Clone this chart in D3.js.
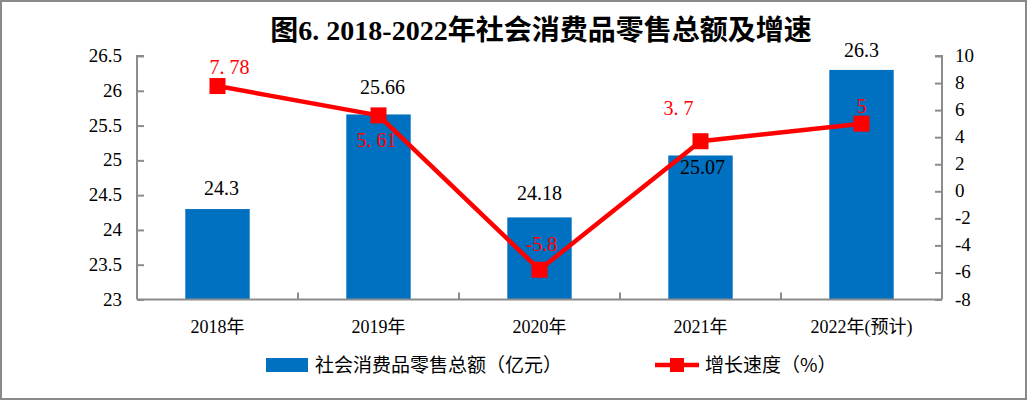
<!DOCTYPE html>
<html><head><meta charset="utf-8">
<script src="https://cdn.jsdelivr.net/npm/d3@7"></script>
<style>
html,body{margin:0;padding:0;background:#fff;}
svg{display:block;}
</style></head>
<body>
<svg id="c" width="1027" height="400"></svg>
<script>
const categories = ["2018年","2019年","2020年","2021年","2022年(预计)"];
const retailSales = [24.3, 25.66, 24.18, 25.07, 26.3];
const growthRate = [7.78, 5.61, -5.8, 3.7, 5];
const growthLabels = ["7. 78","5. 61","-5.8","3. 7","5"];
const leftTicks = [23,23.5,24,24.5,25,25.5,26,26.5];
const rightTicks = [-8,-6,-4,-2,0,2,4,6,8,10];
const titleText = "图6. 2018-2022年社会消费品零售总额及增速";
const legendBar = "社会消费品零售总额（亿元）";
const legendLine = "增长速度（%）";

const svg = d3.select("#c");
const W = 1027, H = 400;
const m = {l:137, r:942, t:56, b:299.5};
const serif = "'Liberation Serif','Times New Roman',serif";
const cjk = "'Noto Sans CJK SC','Noto Sans',sans-serif";
const mix = "'Liberation Serif','Noto Sans CJK SC',serif";
const axisCol = "#8c8c8c";
const blue = "#0070C0", red = "#FF0000";

svg.append("rect").attr("x",1).attr("y",1).attr("width",W-2).attr("height",H-2)
  .attr("fill","#fff").attr("stroke","#8a8a8a").attr("stroke-width",2);

const x = d3.scaleBand().domain(categories).range([m.l,m.r]).paddingInner(0.6).paddingOuter(0.3);
const xc = d3.scaleBand().domain(categories).range([m.l,m.r]);
const yL = d3.scaleLinear().domain([23,26.5]).range([m.b,m.t]);
const yR = d3.scaleLinear().domain([-8,10]).range([m.b,m.t]);

// title
svg.append("text").attr("x",541).attr("y",40).attr("text-anchor","middle")
  .attr("font-family",mix).attr("font-weight","bold").attr("font-size",28).attr("fill","#000")
  .text(titleText);

// bars
svg.append("g").selectAll("rect").data(retailSales).join("rect")
  .attr("x",(d,i)=>x(categories[i])).attr("width",x.bandwidth())
  .attr("y",d=>yL(d)).attr("height",d=>m.b-yL(d)).attr("fill",blue);

// axes
const gl = svg.append("g").attr("transform",`translate(${m.l},0)`)
  .call(d3.axisRight(yL).tickValues(leftTicks).tickSize(7).tickFormat(""));
const gr = svg.append("g").attr("transform",`translate(${m.r},0)`)
  .call(d3.axisLeft(yR).tickValues(rightTicks).tickSize(7).tickFormat(""));
const gb = svg.append("g").attr("transform",`translate(0,${m.b})`)
  .call(d3.axisTop(xc).tickValues(categories.slice(1)).tickSize(7).tickFormat(""))
  .call(g=>g.selectAll(".tick line").attr("transform",`translate(${-xc.bandwidth()/2},0)`));
[gl,gr,gb].forEach(g=>{
  g.select(".domain").attr("stroke",axisCol).attr("stroke-width",2);
  g.selectAll(".tick line").attr("stroke",axisCol).attr("stroke-width",2);
});
gl.select(".domain").attr("d",`M7,${m.t}H0V${m.b}`);
gr.select(".domain").attr("d",`M-7,${m.t}H0V${m.b}`);
gb.select(".domain").attr("d",`M${m.l},0H${m.r}`);

// tick labels
svg.append("g").selectAll("text").data(leftTicks).join("text")
  .attr("x",122).attr("y",d=>yL(d)+6).attr("text-anchor","end")
  .attr("font-family",serif).attr("font-size",19).text(d=>d);
svg.append("g").selectAll("text").data(rightTicks).join("text")
  .attr("x",955).attr("y",d=>yR(d)+6).attr("text-anchor","start")
  .attr("font-family",serif).attr("font-size",19).text(d=>d);
svg.append("g").selectAll("text").data(categories).join("text")
  .attr("x",d=>xc(d)+xc.bandwidth()/2).attr("y",333).attr("text-anchor","middle")
  .attr("font-family",mix).attr("font-size",18).text(d=>d);

// line
const pts = growthRate.map((d,i)=>[xc(categories[i])+xc.bandwidth()/2, yR(d)]);
svg.append("path").attr("d",d3.line()(pts)).attr("fill","none")
  .attr("stroke",red).attr("stroke-width",4.5).attr("stroke-linejoin","round");
const ms = 16;
svg.append("g").selectAll("rect").data(pts).join("rect")
  .attr("x",p=>p[0]-ms/2).attr("y",p=>p[1]-ms/2).attr("width",ms).attr("height",ms).attr("fill",red);

// bar value labels (offsets)
const barLblOff = [[4,-14],[4,-20],[0,-17],[2,19],[0,-13]];
svg.append("g").selectAll("text").data(retailSales).join("text")
  .attr("x",(d,i)=>xc(categories[i])+xc.bandwidth()/2+barLblOff[i][0])
  .attr("y",(d,i)=>yL(d)+barLblOff[i][1]).attr("text-anchor","middle")
  .attr("font-family",serif).attr("font-size",20).attr("fill","#000").text(d=>d);

// line value labels
const lineLblOff = [[12,-12],[-2,32],[2,-19],[-22,-26],[0,-11]];
svg.append("g").selectAll("text").data(growthRate).join("text")
  .attr("x",(d,i)=>pts[i][0]+lineLblOff[i][0]).attr("y",(d,i)=>pts[i][1]+lineLblOff[i][1])
  .attr("text-anchor","middle").attr("font-family",serif).attr("font-size",20).attr("fill",red)
  .text((d,i)=>growthLabels[i]);

// legend
svg.append("rect").attr("x",266).attr("y",358).attr("width",42).attr("height",14).attr("fill",blue);
svg.append("text").attr("x",315).attr("y",372).attr("font-family",cjk).attr("font-size",19).text(legendBar);
svg.append("line").attr("x1",655).attr("x2",699).attr("y1",365).attr("y2",365).attr("stroke",red).attr("stroke-width",4.5);
svg.append("rect").attr("x",670).attr("y",358).attr("width",14).attr("height",14).attr("fill",red);
svg.append("text").attr("x",705).attr("y",372).attr("font-family",cjk).attr("font-size",19).text(legendLine);
</script>
</body></html>
